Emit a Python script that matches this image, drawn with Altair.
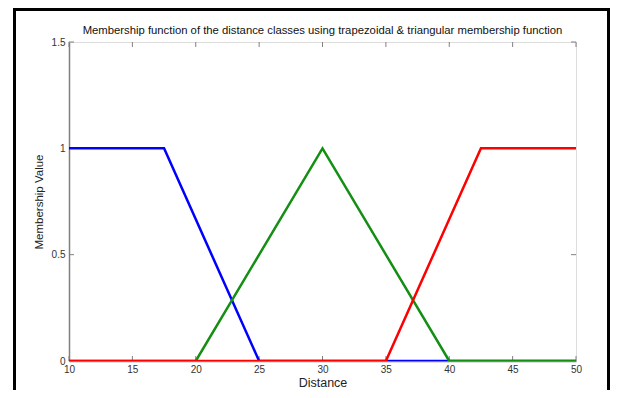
import altair as alt
import pandas as pd

# ---- data ----
blue_x = [10, 17.5, 25, 50]
blue_y = [1, 1, 0, 0]
green_x = [10, 20, 30, 40, 50]
green_y = [0, 0, 1, 0, 0]
red_x = [10, 35, 42.5, 50]
red_y = [0, 0, 1, 1]

x_ticks = [10, 15, 20, 25, 30, 35, 40, 45, 50]
y_ticks = [0, 0.5, 1, 1.5]

TITLE = "Membership function of the distance classes using trapezoidal & triangular membership function"

W, H = 507, 319
FONT = "Liberation Sans"
AX = "#808080"

xscale = alt.Scale(domain=[10, 50], nice=False, zero=False)
yscale = alt.Scale(domain=[0, 1.5], nice=False, zero=False)

xaxis = alt.Axis(values=x_ticks, grid=False, ticks=False, tickSize=0, labelPadding=3,
                 labelFontSize=10, labelColor="#333333", labelFont=FONT,
                 domainColor=AX, domainWidth=1.5, title="Distance",
                 titleFont=FONT, titleFontSize=12.5, titleFontWeight="normal",
                 titleColor="#222222", titlePadding=2, labelFlush=False)
yaxis = alt.Axis(values=y_ticks, grid=False, ticks=False, tickSize=0, labelPadding=4,
                 labelFontSize=10, labelColor="#333333", labelFont=FONT, format="~g",
                 domainColor=AX, domainWidth=1.5, title="Membership Value",
                 titleFont=FONT, titleFontSize=11.5, titleFontWeight="normal",
                 titleColor="#222222", titlePadding=7, labelFlush=False)


def series(xs, ys, color):
    df = pd.DataFrame({"x": xs, "y": ys})
    return alt.Chart(df).mark_line(color=color, strokeWidth=2.5, clip=True).encode(
        x=alt.X("x:Q", scale=xscale, axis=xaxis),
        y=alt.Y("y:Q", scale=yscale, axis=yaxis),
    )


dfx = pd.DataFrame({"t": x_ticks})
dfy = pd.DataFrame({"t": y_ticks})

xt_bot = alt.Chart(dfx).mark_rule(color=AX, strokeWidth=1).encode(
    x=alt.X("t:Q", scale=xscale), y=alt.value(H), y2=alt.value(H - 5))
xt_top = alt.Chart(dfx).mark_rule(color=AX, strokeWidth=1).encode(
    x=alt.X("t:Q", scale=xscale), y=alt.value(0), y2=alt.value(5))
yt_left = alt.Chart(dfy).mark_rule(color=AX, strokeWidth=1).encode(
    y=alt.Y("t:Q", scale=yscale), x=alt.value(0), x2=alt.value(5))
yt_right = alt.Chart(dfy).mark_rule(color=AX, strokeWidth=1).encode(
    y=alt.Y("t:Q", scale=yscale), x=alt.value(W), x2=alt.value(W - 5))

one = pd.DataFrame({"a": [0]})
frame = alt.Chart(one).mark_rect(
    fill=None, stroke="black", strokeWidth=3, clip=False).encode(
    x=alt.value(-54.5), x2=alt.value(539.5), y=alt.value(-32.5), y2=alt.value(420))

title = alt.Chart(one).mark_text(
    text=TITLE, font=FONT, fontSize=11.3, color="#111111",
    align="center", baseline="middle", clip=False).encode(
    x=alt.value(W / 2), y=alt.value(-11))

chart = alt.layer(
    frame, title, xt_bot, xt_top, yt_left, yt_right,
    series(blue_x, blue_y, "#0000FF"),
    series(green_x, green_y, "#138F13"),
    series(red_x, red_y, "#FF0000"),
).properties(
    width=W, height=H,
    autosize=alt.AutoSizeParams(type="none"),
    padding={"left": 61, "top": 34, "right": 35, "bottom": 29},
).configure_view(stroke=AX, strokeWidth=1.5).configure(background="white")

chart.save("out.html", embed_options={"renderer": "svg", "actions": False})
